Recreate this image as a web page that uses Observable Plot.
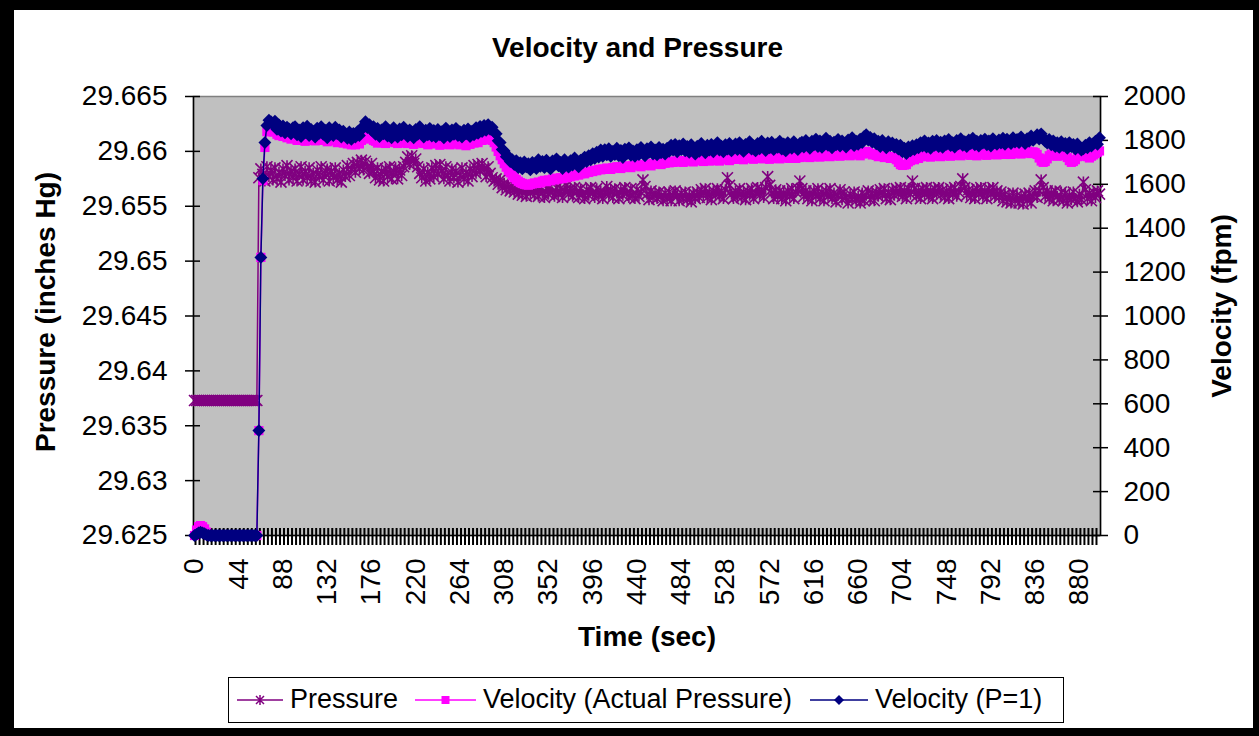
<!DOCTYPE html>
<html>
<head>
<meta charset="utf-8">
<script src="https://cdn.jsdelivr.net/npm/d3@7"></script>
<script src="https://cdn.jsdelivr.net/npm/@observablehq/plot@0.6"></script>
<style>
  html, body { margin: 0; padding: 0; background: #fff; }
  #chart { position: relative; width: 1259px; height: 736px; background: #000; overflow: hidden;
           font-family: Arial, "Liberation Sans", sans-serif; }
  #inner { position: absolute; left: 14px; top: 10px; width: 1239px; height: 718px; background: #fff; }
  #title { position: absolute; left: 18px; top: 34px; width: 1239px; text-align: center;
           font-weight: bold; font-size: 28px; line-height: 1; color: #000; }
  #plot { position: absolute; left: 14px; top: 70px; }
  #legend { position: absolute; left: 228px; top: 677px; width: 834px; height: 44px;
            border: 1px solid #000; background: #fff; font-size: 27px; color: #000; }
  #legend span { position: absolute; top: 8px; line-height: 1; white-space: nowrap; }
  #legend svg { position: absolute; top: 12px; overflow: visible; }
</style>
</head>
<body>
<div id="chart">
  <div id="inner"></div>
  <div id="title">Velocity and Pressure</div>
  <div id="plot"></div>
  <div id="legend"></div>
</div>
<script>
// ---- Data (time in seconds, sampled every 2 s) ----
const times = d3.range(0, 901, 2);

const pressure = [
29.6373,29.6373,29.6373,29.6373,29.6373,29.6373,29.6373,29.6373,29.6373,29.6373,
29.6373,29.6373,29.6373,29.6373,29.6373,29.6373,29.6373,29.6373,29.6373,29.6373,
29.6373,29.6373,29.6373,29.6373,29.6373,29.6373,29.6373,29.6373,29.6373,29.6373,
29.6373,29.6373,29.6576,29.6584,29.6579,29.6573,29.6586,29.6577,29.6583,29.6574,
29.6585,29.6575,29.6581,29.6572,29.6584,29.6578,29.6587,29.6574,29.6582,29.6576,
29.6584,29.6573,29.6579,29.6586,29.6574,29.6582,29.6576,29.6585,29.6573,29.6580,
29.6572,29.6583,29.6577,29.6586,29.6574,29.6580,29.6584,29.6573,29.6582,29.6576,
29.6585,29.6574,29.6580,29.6572,29.6583,29.6577,29.6587,29.6578,29.6584,29.6589,
29.6581,29.6590,29.6584,29.6592,29.6583,29.6591,29.6586,29.6580,29.6589,29.6582,
29.6576,29.6585,29.6574,29.6582,29.6573,29.6584,29.6577,29.6586,29.6575,29.6581,
29.6585,29.6575,29.6583,29.6578,29.6586,29.6590,29.6595,29.6588,29.6596,29.6589,
29.6593,29.6586,29.6580,29.6576,29.6584,29.6573,29.6581,29.6575,29.6585,29.6577,
29.6587,29.6579,29.6588,29.6582,29.6575,29.6586,29.6578,29.6573,29.6584,29.6576,
29.6582,29.6572,29.6578,29.6585,29.6575,29.6581,29.6573,29.6584,29.6577,29.6587,
29.6580,29.6588,29.6582,29.6589,29.6584,29.6577,29.6586,29.6580,29.6576,29.6573,
29.6575,29.6570,29.6574,29.6567,29.6571,29.6565,29.6570,29.6564,29.6568,29.6563,
29.6567,29.6561,29.6566,29.6560,29.6565,29.6559,29.6567,29.6562,29.6566,29.6560,
29.6566,29.6559,29.6567,29.6562,29.6558,29.6566,29.6561,29.6568,29.6563,29.6559,
29.6567,29.6561,29.6566,29.6558,29.6564,29.6569,29.6561,29.6566,29.6559,29.6567,
29.6563,29.6558,29.6566,29.6561,29.6557,29.6565,29.6560,29.6567,29.6562,29.6558,
29.6566,29.6560,29.6564,29.6557,29.6562,29.6568,29.6560,29.6565,29.6558,29.6566,
29.6562,29.6557,29.6565,29.6560,29.6567,29.6562,29.6558,29.6566,29.6560,29.6557,
29.6565,29.6559,29.6563,29.6574,29.6568,29.6561,29.6556,29.6564,29.6558,29.6562,
29.6557,29.6563,29.6559,29.6555,29.6562,29.6557,29.6563,29.6555,29.6560,29.6564,
29.6559,29.6555,29.6562,29.6557,29.6563,29.6556,29.6560,29.6554,29.6562,29.6557,
29.6563,29.6558,29.6565,29.6560,29.6566,29.6558,29.6563,29.6556,29.6564,29.6560,
29.6566,29.6559,29.6564,29.6557,29.6565,29.6576,29.6569,29.6561,29.6557,29.6564,
29.6559,29.6566,29.6558,29.6563,29.6556,29.6564,29.6560,29.6566,29.6557,29.6562,
29.6567,29.6560,29.6565,29.6558,29.6567,29.6577,29.6569,29.6562,29.6557,29.6565,
29.6559,29.6564,29.6557,29.6562,29.6555,29.6564,29.6559,29.6566,29.6557,29.6563,
29.6566,29.6573,29.6566,29.6559,29.6564,29.6557,29.6562,29.6555,29.6564,29.6559,
29.6566,29.6557,29.6563,29.6555,29.6564,29.6559,29.6566,29.6557,29.6562,29.6554,
29.6560,29.6565,29.6556,29.6563,29.6558,29.6553,29.6561,29.6556,29.6563,29.6555,
29.6559,29.6553,29.6562,29.6555,29.6560,29.6564,29.6556,29.6562,29.6555,29.6563,
29.6559,29.6565,29.6560,29.6566,29.6557,29.6563,29.6556,29.6565,29.6560,29.6566,
29.6561,29.6567,29.6559,29.6564,29.6557,29.6566,29.6561,29.6573,29.6566,29.6559,
29.6564,29.6557,29.6566,29.6561,29.6567,29.6559,29.6564,29.6557,29.6566,29.6561,
29.6567,29.6560,29.6565,29.6558,29.6564,29.6557,29.6566,29.6561,29.6567,29.6559,
29.6563,29.6568,29.6575,29.6567,29.6560,29.6565,29.6558,29.6564,29.6557,29.6566,
29.6561,29.6567,29.6559,29.6564,29.6557,29.6566,29.6561,29.6567,29.6559,29.6564,
29.6558,29.6563,29.6555,29.6561,29.6554,29.6560,29.6553,29.6562,29.6555,29.6560,
29.6553,29.6559,29.6552,29.6561,29.6555,29.6562,29.6553,29.6559,29.6564,29.6558,
29.6564,29.6574,29.6567,29.6559,29.6564,29.6557,29.6562,29.6555,29.6564,29.6559,
29.6556,29.6563,29.6555,29.6562,29.6553,29.6560,29.6556,29.6563,29.6557,29.6554,
29.6561,29.6556,29.6572,29.6565,29.6557,29.6562,29.6555,29.6563,29.6558,29.6564,
29.6561
];

const velocityActual = [
0,25,40,45,40,30,15,0,0,0,
0,0,0,0,0,0,0,0,0,0,
0,0,0,0,0,0,0,0,0,0,
0,0,478,1267,1617,1768,1840,1858,1852,1838,
1840,1828,1822,1830,1818,1820,1812,1818,1806,1810,
1812,1800,1806,1815,1802,1796,1808,1800,1812,1804,
1798,1808,1800,1814,1800,1806,1794,1806,1810,1798,
1802,1790,1800,1796,1788,1798,1784,1792,1780,1786,
1780,1790,1784,1800,1810,1822,1818,1806,1812,1800,
1796,1788,1800,1790,1796,1786,1800,1792,1796,1804,
1790,1786,1794,1788,1798,1792,1786,1796,1790,1782,
1794,1788,1800,1792,1786,1794,1780,1790,1786,1796,
1784,1790,1778,1788,1782,1792,1788,1780,1790,1784,
1794,1786,1780,1790,1784,1776,1788,1782,1792,1788,
1796,1790,1802,1800,1808,1804,1812,1806,1800,1790,
1770,1750,1730,1712,1694,1678,1664,1652,1640,1630,
1622,1614,1608,1604,1600,1598,1596,1600,1602,1606,
1604,1610,1606,1614,1618,1612,1620,1616,1624,1620,
1628,1624,1630,1626,1634,1630,1638,1634,1642,1638,
1646,1642,1648,1652,1648,1656,1654,1660,1658,1664,
1662,1668,1666,1670,1668,1674,1672,1668,1676,1674,
1680,1678,1672,1680,1678,1684,1682,1676,1686,1684,
1690,1686,1680,1688,1686,1692,1690,1684,1694,1692,
1698,1694,1690,1698,1696,1700,1698,1704,1700,1706,
1702,1708,1704,1700,1708,1706,1712,1708,1702,1710,
1708,1714,1710,1704,1712,1710,1706,1712,1708,1716,
1712,1706,1714,1712,1718,1714,1708,1716,1714,1718,
1714,1720,1716,1712,1720,1718,1722,1718,1714,1722,
1718,1726,1720,1716,1722,1720,1714,1722,1718,1724,
1720,1716,1722,1720,1728,1724,1718,1726,1722,1718,
1726,1722,1728,1724,1732,1728,1722,1730,1726,1734,
1730,1724,1732,1728,1736,1730,1726,1734,1730,1738,
1732,1728,1736,1732,1740,1734,1730,1738,1734,1742,
1736,1730,1738,1744,1750,1746,1740,1734,1740,1732,
1726,1734,1728,1722,1730,1726,1718,1726,1720,1712,
1700,1690,1686,1688,1690,1702,1708,1716,1712,1720,
1718,1726,1730,1726,1734,1730,1724,1732,1728,1736,
1732,1726,1734,1730,1738,1734,1728,1736,1732,1740,
1736,1730,1738,1734,1742,1738,1732,1740,1736,1730,
1738,1734,1742,1738,1732,1740,1736,1744,1740,1734,
1742,1740,1746,1736,1748,1742,1736,1746,1740,1750,
1744,1738,1748,1742,1752,1746,1740,1748,1744,1736,
1720,1706,1700,1704,1716,1730,1738,1730,1736,1728,
1734,1740,1730,1736,1722,1708,1700,1704,1712,1726,
1734,1728,1736,1732,1726,1720,1728,1734,1740,1746,
1752
];

const velocityP1 = [
0,5,12,15,12,8,3,0,0,0,
0,0,0,0,0,0,0,0,0,0,
0,0,0,0,0,0,0,0,0,0,
0,0,478,1267,1626,1790,1868,1892,1885,1872,
1888,1850,1870,1842,1866,1835,1860,1852,1830,1858,
1862,1825,1848,1818,1858,1836,1865,1822,1850,1840,
1815,1856,1832,1862,1828,1845,1812,1858,1838,1822,
1860,1830,1848,1815,1842,1826,1810,1838,1805,1832,
1815,1840,1822,1848,1866,1885,1858,1872,1846,1862,
1828,1855,1818,1848,1830,1862,1820,1844,1812,1858,
1836,1815,1852,1826,1860,1832,1818,1848,1838,1812,
1850,1828,1862,1834,1815,1846,1825,1855,1820,1845,
1816,1850,1826,1840,1812,1856,1832,1818,1848,1828,
1855,1822,1840,1815,1846,1830,1852,1818,1842,1826,
1858,1832,1864,1840,1868,1846,1872,1850,1860,1838,
1830,1798,1790,1758,1752,1726,1728,1704,1712,1690,
1708,1676,1698,1670,1702,1680,1694,1666,1700,1684,
1672,1712,1682,1704,1676,1710,1686,1670,1706,1690,
1716,1684,1700,1672,1712,1694,1678,1708,1688,1720,
1696,1680,1710,1698,1724,1704,1730,1712,1740,1718,
1746,1724,1756,1728,1758,1734,1762,1728,1750,1736,
1764,1730,1754,1722,1760,1740,1766,1732,1752,1728,
1758,1736,1768,1742,1730,1762,1746,1770,1738,1756,
1734,1768,1744,1760,1738,1764,1750,1778,1756,1782,
1748,1776,1758,1784,1752,1772,1746,1780,1760,1738,
1774,1750,1786,1762,1744,1778,1756,1782,1748,1770,
1790,1756,1774,1748,1780,1760,1786,1752,1772,1784,
1758,1790,1764,1750,1782,1768,1794,1760,1776,1752,
1786,1762,1796,1770,1754,1788,1766,1792,1758,1780,
1768,1796,1760,1784,1752,1790,1772,1764,1794,1770,
1758,1786,1792,1770,1800,1776,1764,1796,1780,1806,
1772,1798,1768,1790,1810,1778,1796,1766,1792,1780,
1804,1774,1798,1784,1770,1802,1788,1812,1776,1796,
1782,1806,1790,1818,1826,1802,1814,1792,1808,1784,
1796,1772,1800,1780,1766,1794,1776,1788,1770,1782,
1760,1778,1748,1764,1740,1770,1752,1776,1758,1780,
1766,1790,1774,1798,1770,1788,1764,1796,1778,1800,
1772,1792,1768,1798,1782,1804,1776,1790,1770,1800,
1784,1808,1778,1794,1772,1802,1786,1810,1780,1796,
1774,1800,1788,1806,1780,1798,1774,1808,1790,1782,
1802,1788,1810,1782,1806,1796,1786,1812,1792,1804,
1790,1816,1798,1786,1808,1796,1820,1800,1812,1826,
1806,1830,1812,1796,1788,1804,1780,1798,1772,1790,
1768,1794,1776,1786,1764,1790,1772,1782,1760,1784,
1770,1756,1762,1778,1766,1790,1774,1786,1796,1782,
1812
];

const xTickLabels = [0,44,88,132,176,220,264,308,352,396,440,484,528,572,616,660,704,748,792,836,880];
const pressureTicks = [29.625,29.63,29.635,29.64,29.645,29.65,29.655,29.66,29.665];
const velocityTicks = [0,200,400,600,800,1000,1200,1400,1600,1800,2000];
const pressureDomain = [29.625, 29.665];
const velocityDomain = [0, 2000];

const seriesNames = ["Pressure", "Velocity (Actual Pressure)", "Velocity (P=1)"];
const seriesColors = ["#800080", "#ff00ff", "#000080"];

// ---- secondary axis mapping (velocity onto pressure scale) ----
const toP = v => pressureDomain[0] + (v - velocityDomain[0]) / (velocityDomain[1] - velocityDomain[0]) * (pressureDomain[1] - pressureDomain[0]);
const fromP = p => velocityDomain[0] + (p - pressureDomain[0]) / (pressureDomain[1] - pressureDomain[0]) * (velocityDomain[1] - velocityDomain[0]);

const rows = times.map((t, i) => ({t, p: pressure[i], va: toP(velocityActual[i]), v1: toP(velocityP1[i])}));
const step = times[1] - times[0];
const xDomain = [times[0] - step / 2, times[times.length - 1] + step / 2];
const categoryTicks = times.filter((t, i) => i % 2 === 1).map(t => t - step / 2);

const asterisk = {
  draw(ctx, size) {
    const r = Math.sqrt(size / Math.PI);
    ctx.moveTo(-r, -r); ctx.lineTo(r, r);
    ctx.moveTo(-r, r); ctx.lineTo(r, -r);
    ctx.moveTo(0, -r); ctx.lineTo(0, r);
  }
};

const FONT = 'Arial, "Liberation Sans", sans-serif';
const W = 1239, H = 600, ML = 179, MR = 153, MT = 26, MB = 135;
const frameW = W - ML - MR, frameH = H - MT - MB;

const chart = Plot.plot({
  width: W, height: H,
  marginLeft: ML, marginRight: MR, marginTop: MT, marginBottom: MB,
  style: {background: "transparent", fontFamily: FONT, fontSize: "28px", color: "#000", overflow: "visible"},
  x: {type: "linear", domain: xDomain, axis: null},
  y: {type: "linear", domain: pressureDomain, axis: null},
  marks: [
    Plot.frame({fill: "#c0c0c0", stroke: "#808080", strokeWidth: 1.5}),
    Plot.ruleY([pressureDomain[0]], {stroke: "#000", strokeWidth: 1.5}),
    Plot.ruleX(xDomain, {stroke: "#000", strokeWidth: 1.5}),
    Plot.tickX(categoryTicks, {x: d => d, stroke: "#000", strokeWidth: 2, insetTop: frameH - 7, insetBottom: -10}),
    Plot.tickY(pressureTicks, {y: d => d, stroke: "#000", strokeWidth: 1.5, insetLeft: -8, insetRight: frameW - 7}),
    Plot.tickY(velocityTicks.map(toP), {y: d => d, stroke: "#000", strokeWidth: 1.5, insetLeft: frameW - 7, insetRight: -8}),
    Plot.axisY({anchor: "left", ticks: pressureTicks, tickSize: 0, tickPadding: 26, fontSize: 28, label: null,
                tickFormat: d3.format(".3~f")}),
    Plot.axisY({anchor: "right", ticks: velocityTicks.map(toP), tickSize: 0, tickPadding: 23, fontSize: 28, label: null,
                tickFormat: p => String(Math.round(fromP(p)))}),
    Plot.axisX({anchor: "bottom", ticks: xTickLabels, tickSize: 0, tickPadding: 23, tickRotate: -90, fontSize: 28, label: null,
                tickFormat: d => String(d)}),
    // series
    Plot.line(rows, {x: "t", y: "p", stroke: seriesColors[0], strokeWidth: 1.5}),
    Plot.dot(rows, {x: "t", y: "p", symbol: asterisk, r: 5.5, stroke: seriesColors[0], fill: "none", strokeWidth: 1.6}),
    Plot.line(rows, {x: "t", y: "va", stroke: seriesColors[1], strokeWidth: 1.5}),
    Plot.dot(rows, {x: "t", y: "va", symbol: "square", r: 5.2, fill: seriesColors[1], stroke: "none"}),
    Plot.line(rows, {x: "t", y: "v1", stroke: seriesColors[2], strokeWidth: 1.5}),
    Plot.dot(rows, {x: "t", y: "v1", symbol: "diamond2", r: 5.8, fill: seriesColors[2], stroke: "none"}),
    // axis titles
    Plot.text(["Pressure (inches Hg)"], {text: d => d, frameAnchor: "left", textAnchor: "middle", lineAnchor: "middle",
               dx: -147, dy: -4, rotate: -90, fontSize: 28, fontWeight: "bold", fill: "#000"}),
    Plot.text(["Velocity (fpm)"], {text: d => d, frameAnchor: "right", textAnchor: "middle", lineAnchor: "middle",
               dx: 122, dy: -10, rotate: -90, fontSize: 28, fontWeight: "bold", fill: "#000"}),
    Plot.text(["Time (sec)"], {text: d => d, frameAnchor: "bottom", textAnchor: "middle", lineAnchor: "middle",
               dy: 102, fontSize: 28, fontWeight: "bold", fill: "#000"})
  ]
});
document.getElementById("plot").appendChild(chart);

// ---- legend ----
const legend = document.getElementById("legend");
const legendLayout = [
  {sw: 8, swW: 46, tx: 61},
  {sw: 186, swW: 61, tx: 254},
  {sw: 581, swW: 58, tx: 646}
];
const ns = "http://www.w3.org/2000/svg";
seriesNames.forEach((name, i) => {
  const L = legendLayout[i];
  const svg = document.createElementNS(ns, "svg");
  svg.setAttribute("width", L.swW); svg.setAttribute("height", 20);
  svg.style.left = L.sw + "px";
  const line = document.createElementNS(ns, "line");
  line.setAttribute("x1", 0); line.setAttribute("x2", L.swW);
  line.setAttribute("y1", 10); line.setAttribute("y2", 10);
  line.setAttribute("stroke", seriesColors[i]); line.setAttribute("stroke-width", 1.5);
  svg.appendChild(line);
  const c = L.swW / 2;
  const m = document.createElementNS(ns, "path");
  if (i === 0) {
    m.setAttribute("d", `M${c-4},6L${c+4},14M${c-4},14L${c+4},6M${c},5L${c},15`);
    m.setAttribute("stroke", seriesColors[i]); m.setAttribute("stroke-width", 1.5); m.setAttribute("fill", "none");
  } else if (i === 1) {
    m.setAttribute("d", `M${c-4},6H${c+4}V14H${c-4}Z`);
    m.setAttribute("fill", seriesColors[i]);
  } else {
    m.setAttribute("d", `M${c},5L${c+5},10L${c},15L${c-5},10Z`);
    m.setAttribute("fill", seriesColors[i]);
  }
  svg.appendChild(m);
  legend.appendChild(svg);
  const span = document.createElement("span");
  span.textContent = name;
  span.style.left = L.tx + "px";
  legend.appendChild(span);
});
</script>
</body>
</html>
